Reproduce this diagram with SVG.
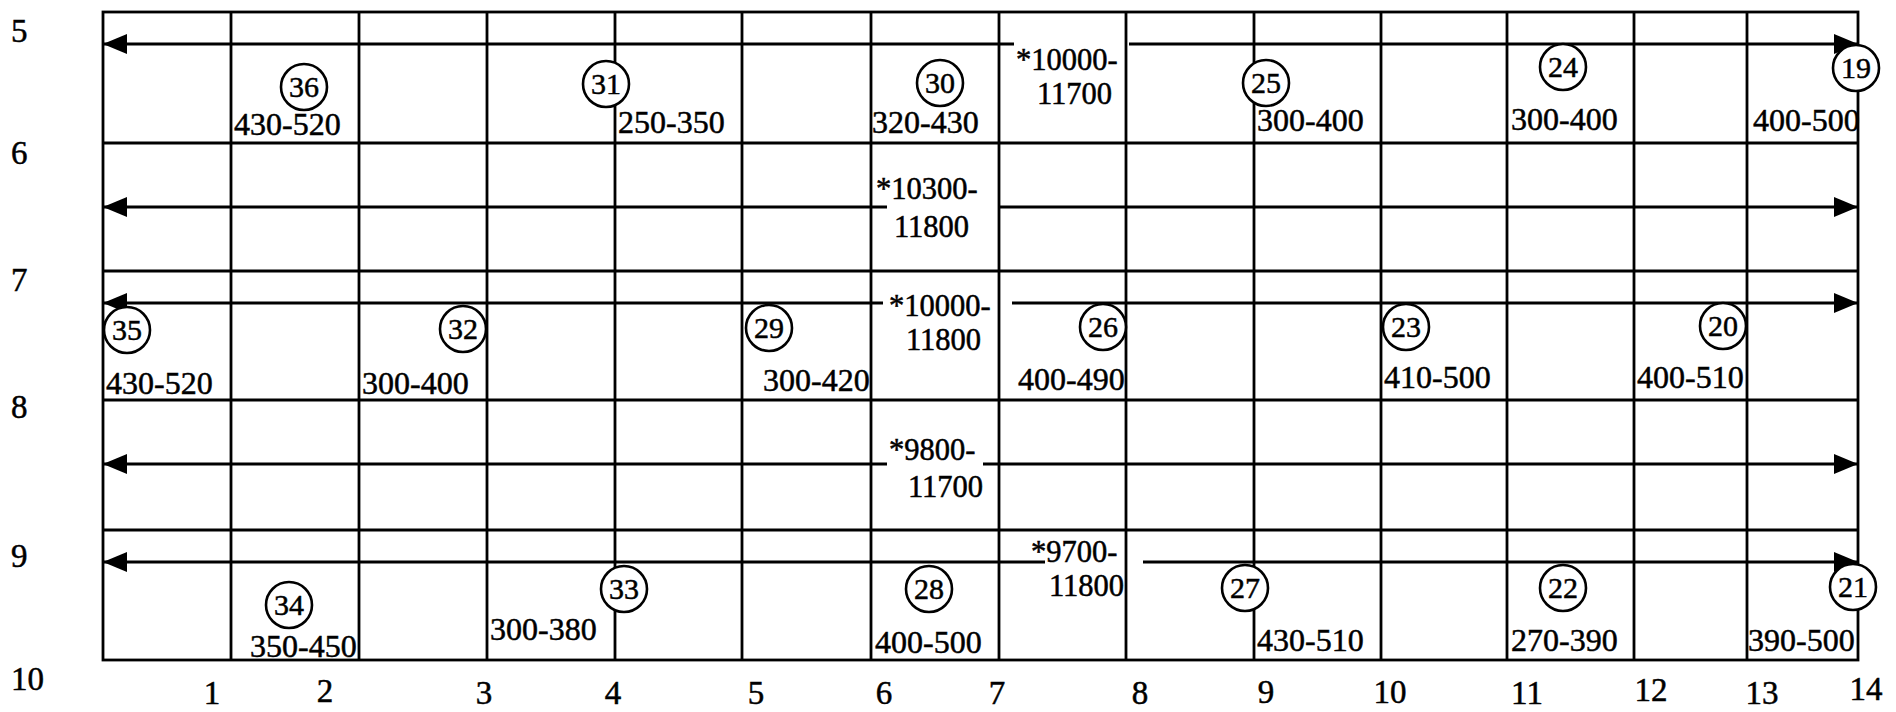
<svg xmlns="http://www.w3.org/2000/svg" width="1896" height="712" viewBox="0 0 1896 712">
<style>
.g{stroke:#000;stroke-width:2.8;fill:none}
.a{stroke:#000;stroke-width:2.8;fill:none;marker-end:url(#ah)}
.c{fill:#fff;stroke:#000;stroke-width:2.6}
text{font-family:"Liberation Serif","Times New Roman",serif;font-size:32px;fill:#000;stroke:#000;stroke-width:0.5}
.n{font-size:30px;text-anchor:middle}
.m{text-anchor:middle}
.L{font-size:33px}
.s{font-size:30.5px}
</style>
<defs>
<marker id="ah" markerWidth="24" markerHeight="20" refX="24" refY="10" orient="auto" markerUnits="userSpaceOnUse"><path d="M0,0 L24,10 L0,20 Z" fill="#000"/></marker>
</defs>
<rect width="1896" height="712" fill="#fff"/>
<g id="grid" class="g">
<rect x="103" y="12" width="1755" height="648"/>
<path d="M103,143H1858M103,271H1858M103,400H1858M103,530H1858"/>
<path d="M231,12V660M359,12V660M487,12V660M615,12V660M742,12V660M871,12V660M999,12V660M1126,12V660M1254,12V660M1381,12V660M1507,12V660M1634,12V660M1747,12V660"/>
</g>
<g id="axis-labels">
<text class="L" x="11" y="42">5</text>
<text class="L" x="11" y="164">6</text>
<text class="L" x="11" y="291">7</text>
<text class="L" x="11" y="418">8</text>
<text class="L" x="11" y="567">9</text>
<text class="L" x="11" y="690">10</text>
<text class="L m" x="212" y="704">1</text>
<text class="L m" x="325" y="702">2</text>
<text class="L m" x="484" y="704">3</text>
<text class="L m" x="613" y="704">4</text>
<text class="L m" x="756" y="704">5</text>
<text class="L m" x="884" y="704">6</text>
<text class="L m" x="997" y="704">7</text>
<text class="L m" x="1140" y="704">8</text>
<text class="L m" x="1266" y="703">9</text>
<text class="L m" x="1390" y="703">10</text>
<text class="L m" x="1527" y="704">11</text>
<text class="L m" x="1651" y="701">12</text>
<text class="L m" x="1762" y="704">13</text>
<text class="L m" x="1866" y="700">14</text>
</g>
<g id="connectors">
<line class="a" x1="1014" y1="44" x2="103" y2="44"/>
<line class="a" x1="1129" y1="44" x2="1858" y2="44"/>
<line class="a" x1="887" y1="207" x2="103" y2="207"/>
<line class="a" x1="999" y1="207" x2="1858" y2="207"/>
<line class="a" x1="883" y1="303" x2="103" y2="303"/>
<line class="a" x1="1012" y1="303" x2="1858" y2="303"/>
<line class="a" x1="887" y1="464" x2="103" y2="464"/>
<line class="a" x1="983" y1="464" x2="1858" y2="464"/>
<line class="a" x1="1045" y1="562" x2="103" y2="562"/>
<line class="a" x1="1143" y1="562" x2="1858" y2="562"/>
</g>
<g id="span-labels">
<text class="s" id="span-row5" x="1016" y="70">*10000-<tspan x="1037" y="104">11700</tspan></text>
<text class="s" id="span-row6" x="876" y="199">*10300-<tspan x="894" y="237">11800</tspan></text>
<text class="s" id="span-row7" x="889" y="316">*10000-<tspan x="906" y="350">11800</tspan></text>
<text class="s" id="span-row8" x="889" y="460">*9800-<tspan x="908" y="497">11700</tspan></text>
<text class="s" id="span-row9" x="1031" y="562">*9700-<tspan x="1049" y="596">11800</tspan></text>
</g>
<g id="node-36"><circle class="c" cx="304" cy="87" r="23"/><text class="n" x="304" y="97">36</text><text x="234" y="135">430-520</text></g>
<g id="node-31"><circle class="c" cx="606" cy="84" r="23"/><text class="n" x="606" y="94">31</text><text x="618" y="133">250-350</text></g>
<g id="node-30"><circle class="c" cx="940" cy="83" r="23"/><text class="n" x="940" y="93">30</text><text x="872" y="133">320-430</text></g>
<g id="node-25"><circle class="c" cx="1266" cy="83" r="23"/><text class="n" x="1266" y="93">25</text><text x="1257" y="131">300-400</text></g>
<g id="node-24"><circle class="c" cx="1563" cy="67" r="23"/><text class="n" x="1563" y="77">24</text><text x="1511" y="130">300-400</text></g>
<g id="node-19"><circle class="c" cx="1856" cy="68" r="23"/><text class="n" x="1856" y="78">19</text><text x="1753" y="131">400-500</text></g>
<g id="node-35"><circle class="c" cx="127" cy="330" r="23"/><text class="n" x="127" y="340">35</text><text x="106" y="394">430-520</text></g>
<g id="node-32"><circle class="c" cx="463" cy="329" r="23"/><text class="n" x="463" y="339">32</text><text x="362" y="394">300-400</text></g>
<g id="node-29"><circle class="c" cx="769" cy="328" r="23"/><text class="n" x="769" y="338">29</text><text x="763" y="391">300-420</text></g>
<g id="node-26"><circle class="c" cx="1103" cy="327" r="23"/><text class="n" x="1103" y="337">26</text><text x="1018" y="390">400-490</text></g>
<g id="node-23"><circle class="c" cx="1406" cy="327" r="23"/><text class="n" x="1406" y="337">23</text><text x="1384" y="388">410-500</text></g>
<g id="node-20"><circle class="c" cx="1723" cy="326" r="23"/><text class="n" x="1723" y="336">20</text><text x="1637" y="388">400-510</text></g>
<g id="node-34"><circle class="c" cx="289" cy="605" r="23"/><text class="n" x="289" y="615">34</text><text x="250" y="657">350-450</text></g>
<g id="node-33"><circle class="c" cx="624" cy="589" r="23"/><text class="n" x="624" y="599">33</text><text x="490" y="640">300-380</text></g>
<g id="node-28"><circle class="c" cx="929" cy="589" r="23"/><text class="n" x="929" y="599">28</text><text x="875" y="653">400-500</text></g>
<g id="node-27"><circle class="c" cx="1245" cy="588" r="23"/><text class="n" x="1245" y="598">27</text><text x="1257" y="651">430-510</text></g>
<g id="node-22"><circle class="c" cx="1563" cy="588" r="23"/><text class="n" x="1563" y="598">22</text><text x="1511" y="651">270-390</text></g>
<g id="node-21"><circle class="c" cx="1853" cy="587" r="23"/><text class="n" x="1853" y="597">21</text><text x="1748" y="651">390-500</text></g>
</svg>
